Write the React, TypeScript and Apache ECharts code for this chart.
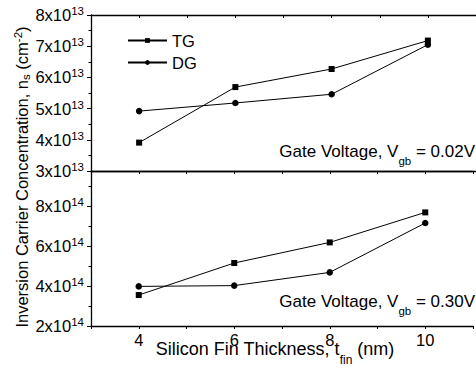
import React, { useEffect, useRef } from "react";
import * as echarts from "echarts";

const thickness = [4, 6, 8, 10];
const tgLow = [3.91, 5.69, 6.27, 7.18];
const dgLow = [4.92, 5.18, 5.46, 7.05];
const tgHigh = [3.55, 5.15, 6.18, 7.68];
const dgHigh = [3.98, 4.02, 4.68, 7.15];
const xLabels = [4, 6, 8, 10];

const FONT = "'Liberation Sans', Arial, sans-serif";
const FS = 16.5;

export default function App() {
  const ref = useRef<HTMLDivElement>(null);
  useEffect(() => {
    const chart = echarts.init(ref.current!, undefined, { renderer: "svg" });
    const richSup = {
      a: { fontSize: FS, lineHeight: 20, color: "#000", fontFamily: FONT },
      b: { fontSize: 11.5, lineHeight: 12, verticalAlign: "top", color: "#000", fontFamily: FONT },
    };
    const richSub = {
      a: { fontSize: 17, lineHeight: 14, verticalAlign: "top", color: "#000", fontFamily: FONT },
      s: { fontSize: 11.5, lineHeight: 24, verticalAlign: "bottom", color: "#000", fontFamily: FONT },
    };
    const axisLine = { show: true, lineStyle: { color: "#000", width: 1.3 } };
    const xCommon = {
      type: "value",
      min: 3,
      max: 11,
      interval: 1,
      splitLine: { show: false },
    };
    const lineSeries = (name: string, data: number[], sym: string, x: number, y: number) => ({
      name,
      type: "line",
      xAxisIndex: x,
      yAxisIndex: y,
      data: thickness.map((t, i) => [t, data[i]]),
      symbol: sym,
      symbolSize: sym === "rect" ? 6 : 6.5,
      lineStyle: { color: "#000", width: 1 },
      itemStyle: { color: "#000" },
    });
    chart.setOption({
      animation: false,
      textStyle: { fontFamily: FONT },
      grid: [
        { left: 91, right: -6, top: 15, height: 156 },
        { left: 91, right: -6, top: 171, height: 155 },
      ],
      legend: {
        left: 122,
        top: 27,
        orient: "vertical",
        itemWidth: 39,
        itemHeight: 6,
        itemGap: 5,
        data: ["TG", "DG"],
        textStyle: { fontSize: FS, lineHeight: 14, color: "#000", fontFamily: FONT },
      },
      xAxis: [
        {
          ...xCommon,
          gridIndex: 0,
          position: "top",
          axisLine,
          axisTick: { show: true, inside: true, length: 3, lineStyle: { color: "#000" } },
          axisLabel: { show: false },
        },
        {
          ...xCommon,
          gridIndex: 0,
          position: "bottom",
          axisLine,
          axisTick: { show: false },
          axisLabel: { show: false },
        },
        {
          ...xCommon,
          gridIndex: 1,
          position: "top",
          axisLine,
          axisTick: { show: true, inside: true, length: 3, lineStyle: { color: "#000" } },
          axisLabel: { show: false },
        },
        {
          ...xCommon,
          gridIndex: 1,
          position: "bottom",
          axisLine,
          axisTick: { show: true, inside: false, length: 3, lineStyle: { color: "#000" } },
          axisLabel: {
            show: true,
            margin: 8,
            fontSize: FS,
            lineHeight: 12,
            color: "#000",
            fontFamily: FONT,
            formatter: (v: number) => (xLabels.includes(v) ? String(v) : ""),
          },
        },
      ],
      yAxis: [
        {
          type: "value",
          gridIndex: 0,
          min: 3,
          max: 8,
          interval: 1,
          axisLine,
          splitLine: { show: false },
          axisTick: { show: true, inside: false, length: 4, lineStyle: { color: "#000" } },
          minorTick: { show: true, splitNumber: 2, length: 2.5, lineStyle: { color: "#000" } },
          axisLabel: {
            margin: 7,
            formatter: (v: number) => `{a|${v}x10}{b|13}`,
            rich: richSup,
          },
        },
        {
          type: "value",
          gridIndex: 1,
          position: "left",
          min: 2,
          max: 9.75,
          interval: 2,
          axisLine,
          splitLine: { show: false },
          axisTick: { show: true, inside: false, length: 4, lineStyle: { color: "#000" } },
          axisLabel: {
            margin: 7,
            showMaxLabel: false,
            formatter: (v: number) => `{a|${v}x10}{b|14}`,
            rich: richSup,
          },
        },
        {
          type: "value",
          gridIndex: 1,
          position: "left",
          offset: 0,
          min: 2,
          max: 9.75,
          interval: 1,
          axisLine: { show: false },
          splitLine: { show: false },
          axisTick: { show: true, inside: false, length: 2.5, lineStyle: { color: "#000" } },
          axisLabel: { show: false },
        },
      ],
      series: [
        lineSeries("TG", tgLow, "rect", 0, 0),
        lineSeries("DG", dgLow, "circle", 0, 0),
        lineSeries("TG", tgHigh, "rect", 3, 1),
        lineSeries("DG", dgHigh, "circle", 3, 1),
      ],
      graphic: [
        {
          type: "text",
          x: 475,
          y: 155,
          style: {
            text: "{a|Gate Voltage, V}{s|gb}{a| = 0.02V}",
            rich: richSub,
            align: "right",
            verticalAlign: "middle",
          },
        },
        {
          type: "text",
          x: 475,
          y: 305,
          style: {
            text: "{a|Gate Voltage, V}{s|gb}{a| = 0.30V}",
            rich: richSub,
            align: "right",
            verticalAlign: "middle",
          },
        },
        {
          type: "text",
          x: 275,
          y: 353,
          style: {
            text: "{a|Silicon Fin Thickness, t}{s|fin}{a| (nm)}",
            rich: {
              a: { fontSize: 18, lineHeight: 14, verticalAlign: "top", color: "#000", fontFamily: FONT },
              s: { fontSize: 12, lineHeight: 26, verticalAlign: "bottom", color: "#000", fontFamily: FONT },
            },
            align: "center",
            verticalAlign: "middle",
          },
        },
        {
          type: "text",
          x: 22,
          y: 177,
          rotation: Math.PI / 2,
          style: {
            text: "{a|Inversion Carrier Concentration, n}{s|s}{a| (cm}{p|-2}{a|)}",
            rich: {
              a: { fontSize: FS, lineHeight: 20, color: "#000", fontFamily: FONT },
              s: { fontSize: 11.5, lineHeight: 7, verticalAlign: "bottom", color: "#000", fontFamily: FONT },
              p: { fontSize: 11.5, lineHeight: 12, verticalAlign: "top", color: "#000", fontFamily: FONT },
            },
            align: "center",
            verticalAlign: "middle",
          },
        },
      ],
    });
    return () => chart.dispose();
  }, []);
  return <div ref={ref} style={{ width: 476, height: 369, position: "absolute", left: 0, top: 0 }} />;
}
